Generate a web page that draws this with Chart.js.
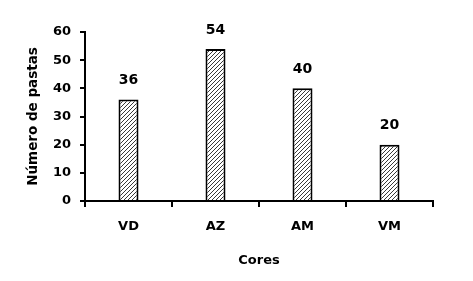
<!DOCTYPE html>
<html><head><meta charset="utf-8">
<script src="https://cdn.jsdelivr.net/npm/chart.js@4/dist/chart.umd.min.js"></script>
<style>html,body{margin:0;padding:0;background:#fff}#wrap{width:473px;height:281px}</style>
</head><body><div id="wrap"><canvas id="c" width="473" height="281"></canvas></div>
<script>
const categories = ["VD", "AZ", "AM", "VM"];
const values = [36, 54, 40, 20];
const yTicks = [0, 10, 20, 30, 40, 50, 60];

function hatch() {
  const p = document.createElement('canvas');
  p.width = 4; p.height = 4;
  const g = p.getContext('2d');
  g.fillStyle = '#fff'; g.fillRect(0,0,4,4);
  g.strokeStyle = '#222'; g.lineWidth = 0.9;
  g.beginPath();
  g.moveTo(-1,5); g.lineTo(5,-1);
  g.moveTo(-1,1); g.lineTo(1,-1);
  g.moveTo(3,5); g.lineTo(5,3);
  g.stroke();
  return g.createPattern(p, 'repeat');
}
const FONT = "'DejaVu Sans', sans-serif";
const labelPlugin = {
  id: 'vlabels',
  afterDatasetsDraw(chart) {
    const ctx = chart.ctx;
    const meta = chart.getDatasetMeta(0);
    ctx.save();
    ctx.font = "bold 14px " + FONT;
    ctx.fillStyle = '#000';
    ctx.textAlign = 'center';
    ctx.textBaseline = 'middle';
    meta.data.forEach((el, i) => {
      ctx.fillText(String(values[i]), el.x, el.y - 19);
    });
    ctx.restore();
  }
};
new Chart(document.getElementById('c'), {
  type: 'bar',
  data: { labels: categories, datasets: [{ data: values, backgroundColor: hatch(), borderColor: '#000', borderWidth: 2, borderSkipped: 'bottom', categoryPercentage: 1, barPercentage: 0.23 }] },
  options: {
    responsive: false, animation: false, devicePixelRatio: 1,
    layout: { padding: { left: 25, right: 40, top: 32, bottom: 10 } },
    plugins: { legend: { display: false }, tooltip: { enabled: false } },
    scales: {
      x: {
        grid: { display: true, drawOnChartArea: false, drawTicks: true, tickLength: 6, color: '#000', lineWidth: 2, offset: true },
        border: { display: true, color: '#000', width: 2 },
        ticks: { color: '#000', font: { family: FONT, size: 13, weight: 'bold' }, padding: 12, maxRotation: 0 },
        title: { display: true, text: 'Cores', color: '#000', font: { family: FONT, size: 13, weight: 'bold' }, padding: { top: 0, bottom: 3 } },
        afterFit(s) { s.height = 281 - 201 - 10; }
      },
      y: {
        min: 0, max: 60,
        afterBuildTicks(s) { s.ticks = yTicks.map(v => ({ value: v })); },
        grid: { display: true, drawOnChartArea: false, drawTicks: true, tickLength: 5, color: '#000', lineWidth: 2 },
        border: { display: true, color: '#000', width: 2 },
        ticks: { color: '#000', font: { family: FONT, size: 13, weight: 'bold' }, padding: 9 },
        title: { display: true, text: 'Número de pastas', color: '#000', font: { family: FONT, size: 13.5, weight: 'bold' }, padding: { top: 0, bottom: 0 } },
        afterFit(s) { s.width = 85 - 25; }
      }
    }
  },
  plugins: [labelPlugin]
});
</script></body></html>
